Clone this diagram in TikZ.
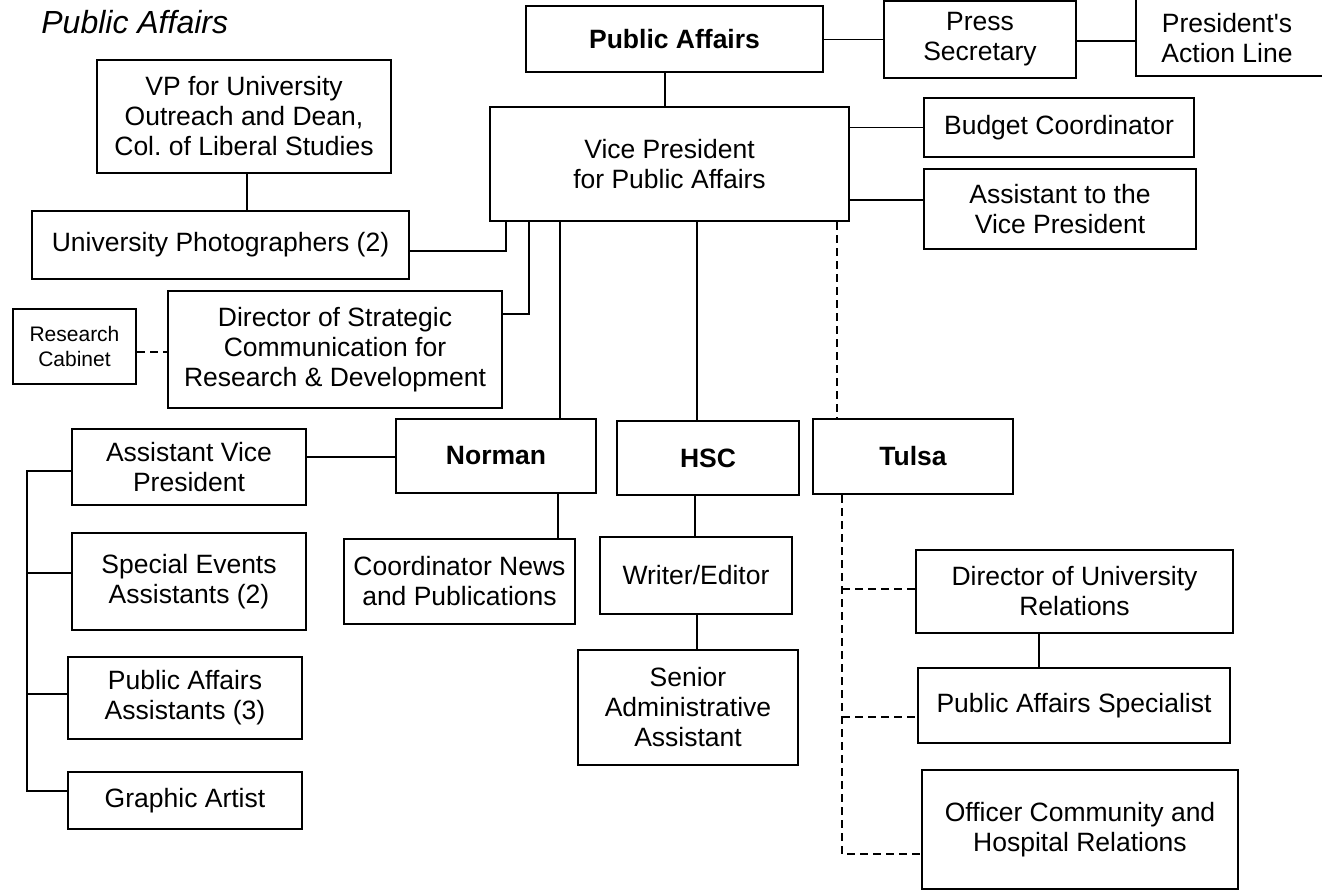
\documentclass[tikz,border=0pt]{standalone}
\usepackage{fontspec}
\setmainfont{Liberation Sans}[Ligatures=TeXOff]
\newcommand{\ob}[6][]{\node[box,#1,minimum width=#4*0.5pt,minimum height=#5*0.5pt] (#2) at (#3) {#6};}
\begin{document}
\begin{tikzpicture}[x=0.5pt,y=-0.5pt,
  box/.style={draw,line width=1pt,rectangle,inner sep=0pt,align=center,
    font=\fontsize{13.25pt}{15pt}\selectfont},
  bfont/.style={font=\fontsize{13.25pt}{15pt}\selectfont\bfseries},
  small/.style={font=\fontsize{10.5pt}{12.5pt}\selectfont},
  conn/.style={line width=0.85pt},
  dconn/.style={line width=0.85pt,dash pattern=on 4pt off 2.5pt}]
\useasboundingbox (0,0) rectangle (1322,890);
\clip (0,0) rectangle (1322,890);
\fill[white] (0,0) rectangle (1322,890);

\node[anchor=base west,inner sep=0pt,font=\fontsize{16pt}{18pt}\selectfont\itshape] (title) at (41,33) {Public Affairs};

\ob[bfont]{pa}{674.5,39}{297}{66}{Public Affairs}
\ob{press}{980,39.5}{192}{77}{Press\\Secretary}
\node[inner sep=0pt,align=center,minimum width=91pt,minimum height=38pt,
  font=\fontsize{13.25pt}{15pt}\selectfont] (pal) at (1227,38) {President's\\Action Line};
\draw[line width=1pt] ([yshift=10pt]pal.north west) -- (pal.south west) -- ([xshift=20pt]pal.south east);
\ob{vp}{669.5,164}{359}{114}{Vice President\\for Public Affairs}
\ob{budget}{1059,127.5}{270}{59}{Budget Coordinator}
\ob{asst}{1060,209}{272}{80}{Assistant to the\\Vice President}
\ob{vpo}{244,116.5}{294}{113}{VP for University\\Outreach and Dean,\\Col.\ of Liberal Studies}
\ob{uphoto}{220.5,245}{377}{68}{University Photographers (2)}
\ob{director}{335,349.5}{334}{117}{Director of Strategic\\Communication for\\Research \& Development}
\ob[small]{rescab}{74.5,346.5}{123}{75}{Research\\Cabinet}
\ob[bfont]{norman}{496,456}{200}{74}{Norman}
\ob[bfont]{hsc}{708,458}{182}{74}{HSC}
\ob[bfont]{tulsa}{913,456.5}{200}{75}{Tulsa}
\ob{avp}{189,467}{234}{76}{Assistant Vice\\President}
\ob{specev}{189,581.5}{234}{97}{Special Events\\Assistants (2)}
\ob{paasst}{185,698}{234}{82}{Public Affairs\\Assistants (3)}
\ob{graphic}{185,800.5}{234}{57}{Graphic Artist}
\ob{coord}{459.5,581.5}{231}{85}{Coordinator News\\and Publications}
\ob{writer}{696,575.5}{192}{77}{Writer/Editor}
\ob{senior}{688,707.5}{220}{115}{Senior\\Administrative\\Assistant}
\ob{dirur}{1074.5,591.5}{317}{83}{Director of University\\Relations}
\ob{paspec}{1074,705.5}{312}{75}{Public Affairs Specialist}
\ob{officer}{1080,829.5}{316}{119}{Officer Community and\\Hospital Relations}

% top connectors
\draw[conn] (pa.east) -- (press.west -| pa.east) -- (press.west);
\draw[conn] (press.east |- 0,41) -- (pal.west |- 0,41);
\draw[conn] (pa.south -| 665,0) -- (vp.north -| 665,0);
\draw[conn] (vp.east |- budget.west) -- (budget.west);
\draw[conn] (vp.east |- 0,200) -- (asst.west |- 0,200);
\draw[conn] (vpo.south -| 247,0) -- (uphoto.north -| 247,0);
\coordinate (c1) at (506,251);
\draw[conn] (uphoto.east |- c1) -- (c1) -- (vp.south -| c1);
\coordinate (c2) at (529,314);
\draw[conn] (vp.south -| c2) -- (c2) -- (director.east |- c2);
\draw[conn] (vp.south -| 560,0) -- (norman.north -| 560,0);
\draw[conn] (vp.south -| 697,0) -- (hsc.north -| 697,0);
\draw[dconn] (vp.south -| 837,0) -- (tulsa.north -| 837,0);
\draw[dconn] (rescab.east |- 0,352) -- (director.west |- 0,352);

% Norman branch
\draw[conn] (avp.east |- 0,457) -- (norman.west |- 0,457);
\draw[conn] (norman.south -| 558,0) -- (coord.north -| 558,0);
\coordinate (b1) at (27,471);
\coordinate (b2) at (27,573);
\coordinate (b3) at (27,694);
\coordinate (b4) at (27,791);
\draw[conn] (avp.west |- b1) -- (b1) -- (b4) -- (graphic.west |- b4);
\draw[conn] (b2) -- (specev.west |- b2);
\draw[conn] (b3) -- (paasst.west |- b3);

% HSC branch
\draw[conn] (hsc.south -| 695,0) -- (writer.north -| 695,0);
\draw[conn] (writer.south -| 697,0) -- (senior.north -| 697,0);

% Tulsa branch
\coordinate (t1) at (842,589);
\coordinate (t2) at (842,717);
\coordinate (t3) at (842,854);
\draw[dconn] (tulsa.south -| t3) -- (t3) -- (officer.west |- t3);
\draw[dconn] (t1) -- (dirur.west |- t1);
\draw[dconn] (t2) -- (paspec.west |- t2);
\draw[conn] (dirur.south -| 1039,0) -- (paspec.north -| 1039,0);
\end{tikzpicture}
\end{document}
